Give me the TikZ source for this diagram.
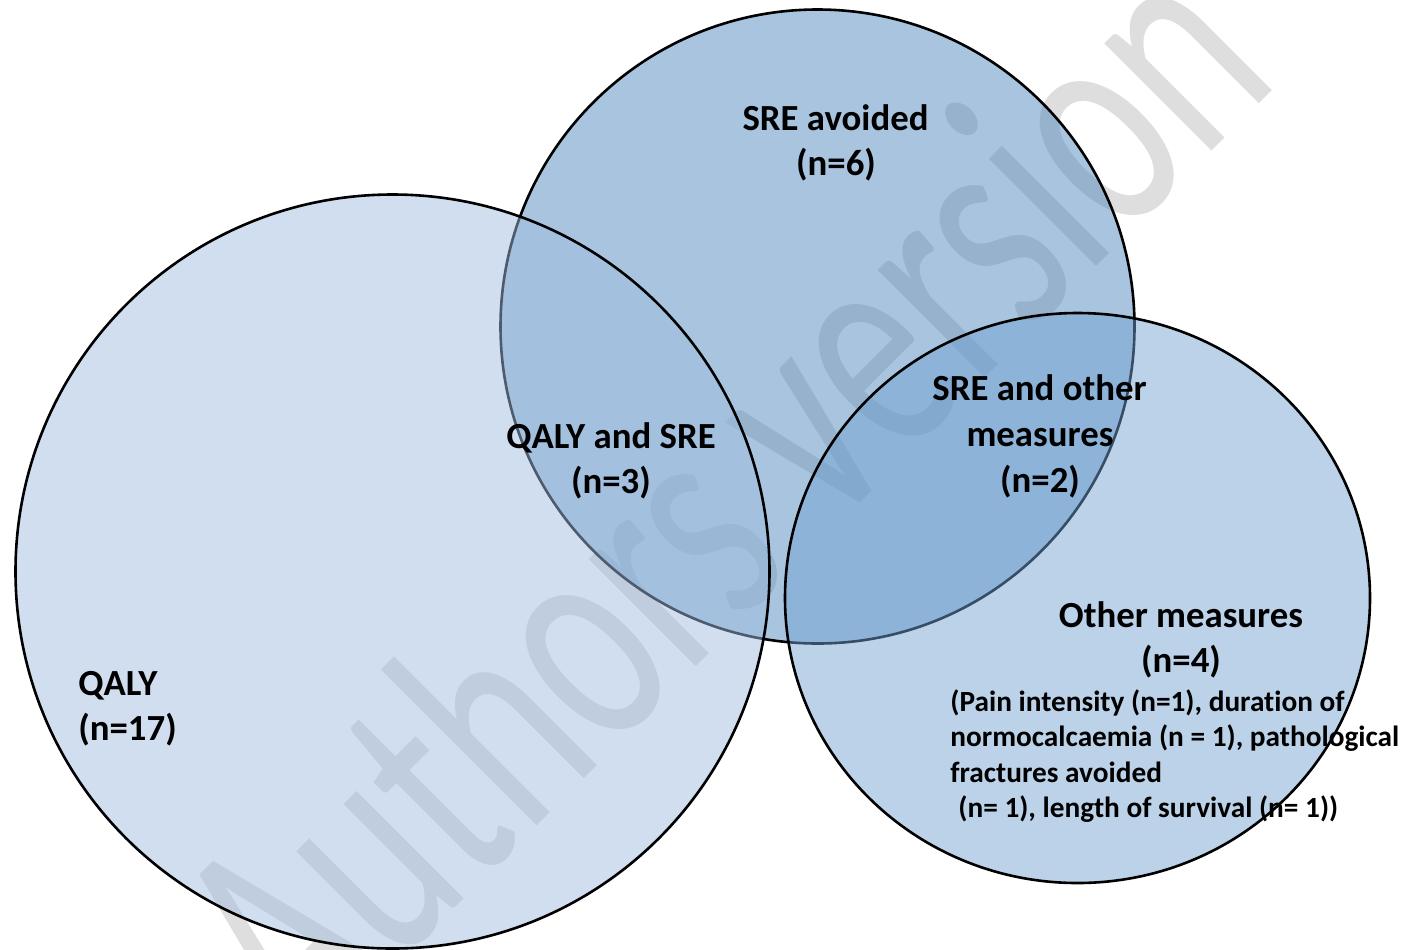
\documentclass[tikz,border=0pt]{standalone}
\usepackage{fontspec}
\setmainfont{Carlito}[Ligatures={NoCommon}]
\definecolor{sreC}{RGB}{64,126,186}
\definecolor{qalyC}{RGB}{160,189,224}
\definecolor{othC}{RGB}{113,161,211}
\definecolor{wmC}{RGB}{222,222,222}
\begin{document}
\begin{tikzpicture}[x=0.5pt,y=-0.5pt,
  ring/.style={draw=black, line width=1.3pt},
  big/.style={font=\fontsize{18.4}{22}\selectfont\bfseries, inner sep=0pt},
  small/.style={font=\fontsize{14.65}{18}\selectfont\bfseries, inner sep=0pt}]
\useasboundingbox (0,0) rectangle (1408,949);
\fill[white] (0,0) rectangle (1408,949);
\clip (0,0) rectangle (1408,949);
% watermark
\node[anchor=base west, rotate=45, inner sep=0pt, text=wmC,
      font=\fontsize{108}{108}\selectfont] (wm) at (306,1057)
      {\scalebox{1}[1.47]{Authors version}};
% circles
\path[ring, fill=sreC, fill opacity=0.45] (817.5,326.5) circle[radius=317];
\path[ring, fill=qalyC, fill opacity=0.485] (392.5,571.5) circle[radius=377];
\path[ring, fill=othC, fill opacity=0.48] (1077.5,598) ellipse[x radius=292.5, y radius=285];
% labels
\node[big, anchor=base] (sre1) at (835.5,130) {SRE avoided};
\node[big, anchor=base] (sre2) at (836,175) {(n=6)};
\node[big, anchor=base] (qs1) at (611,448) {QALY and SRE};
\node[big, anchor=base] (qs2) at (611,493) {(n=3)};
\node[big, anchor=base] (so1) at (1039.5,400) {SRE and other};
\node[big, anchor=base] (so2) at (1040,446) {measures};
\node[big, anchor=base] (so3) at (1040,492) {(n=2)};
\node[big, anchor=base] (om1) at (1181,627) {Other measures};
\node[big, anchor=base] (om2) at (1181,672) {(n=4)};
\node[small, anchor=base west] (d1) at (950,711) {(Pain intensity (n=1), duration of};
\node[small, anchor=base west] (d2) at (950,746.5) {normocalcaemia (n = 1), pathological};
\node[small, anchor=base west] (d3) at (950,782) {fractures avoided};
\node[small, anchor=base west] (d4) at (958,817) {(n= 1), length of survival (n= 1))};
\node[big, anchor=base west] (q1) at (78,695) {QALY};
\node[big, anchor=base west] (q2) at (78,740) {(n=17)};
\end{tikzpicture}
\end{document}
